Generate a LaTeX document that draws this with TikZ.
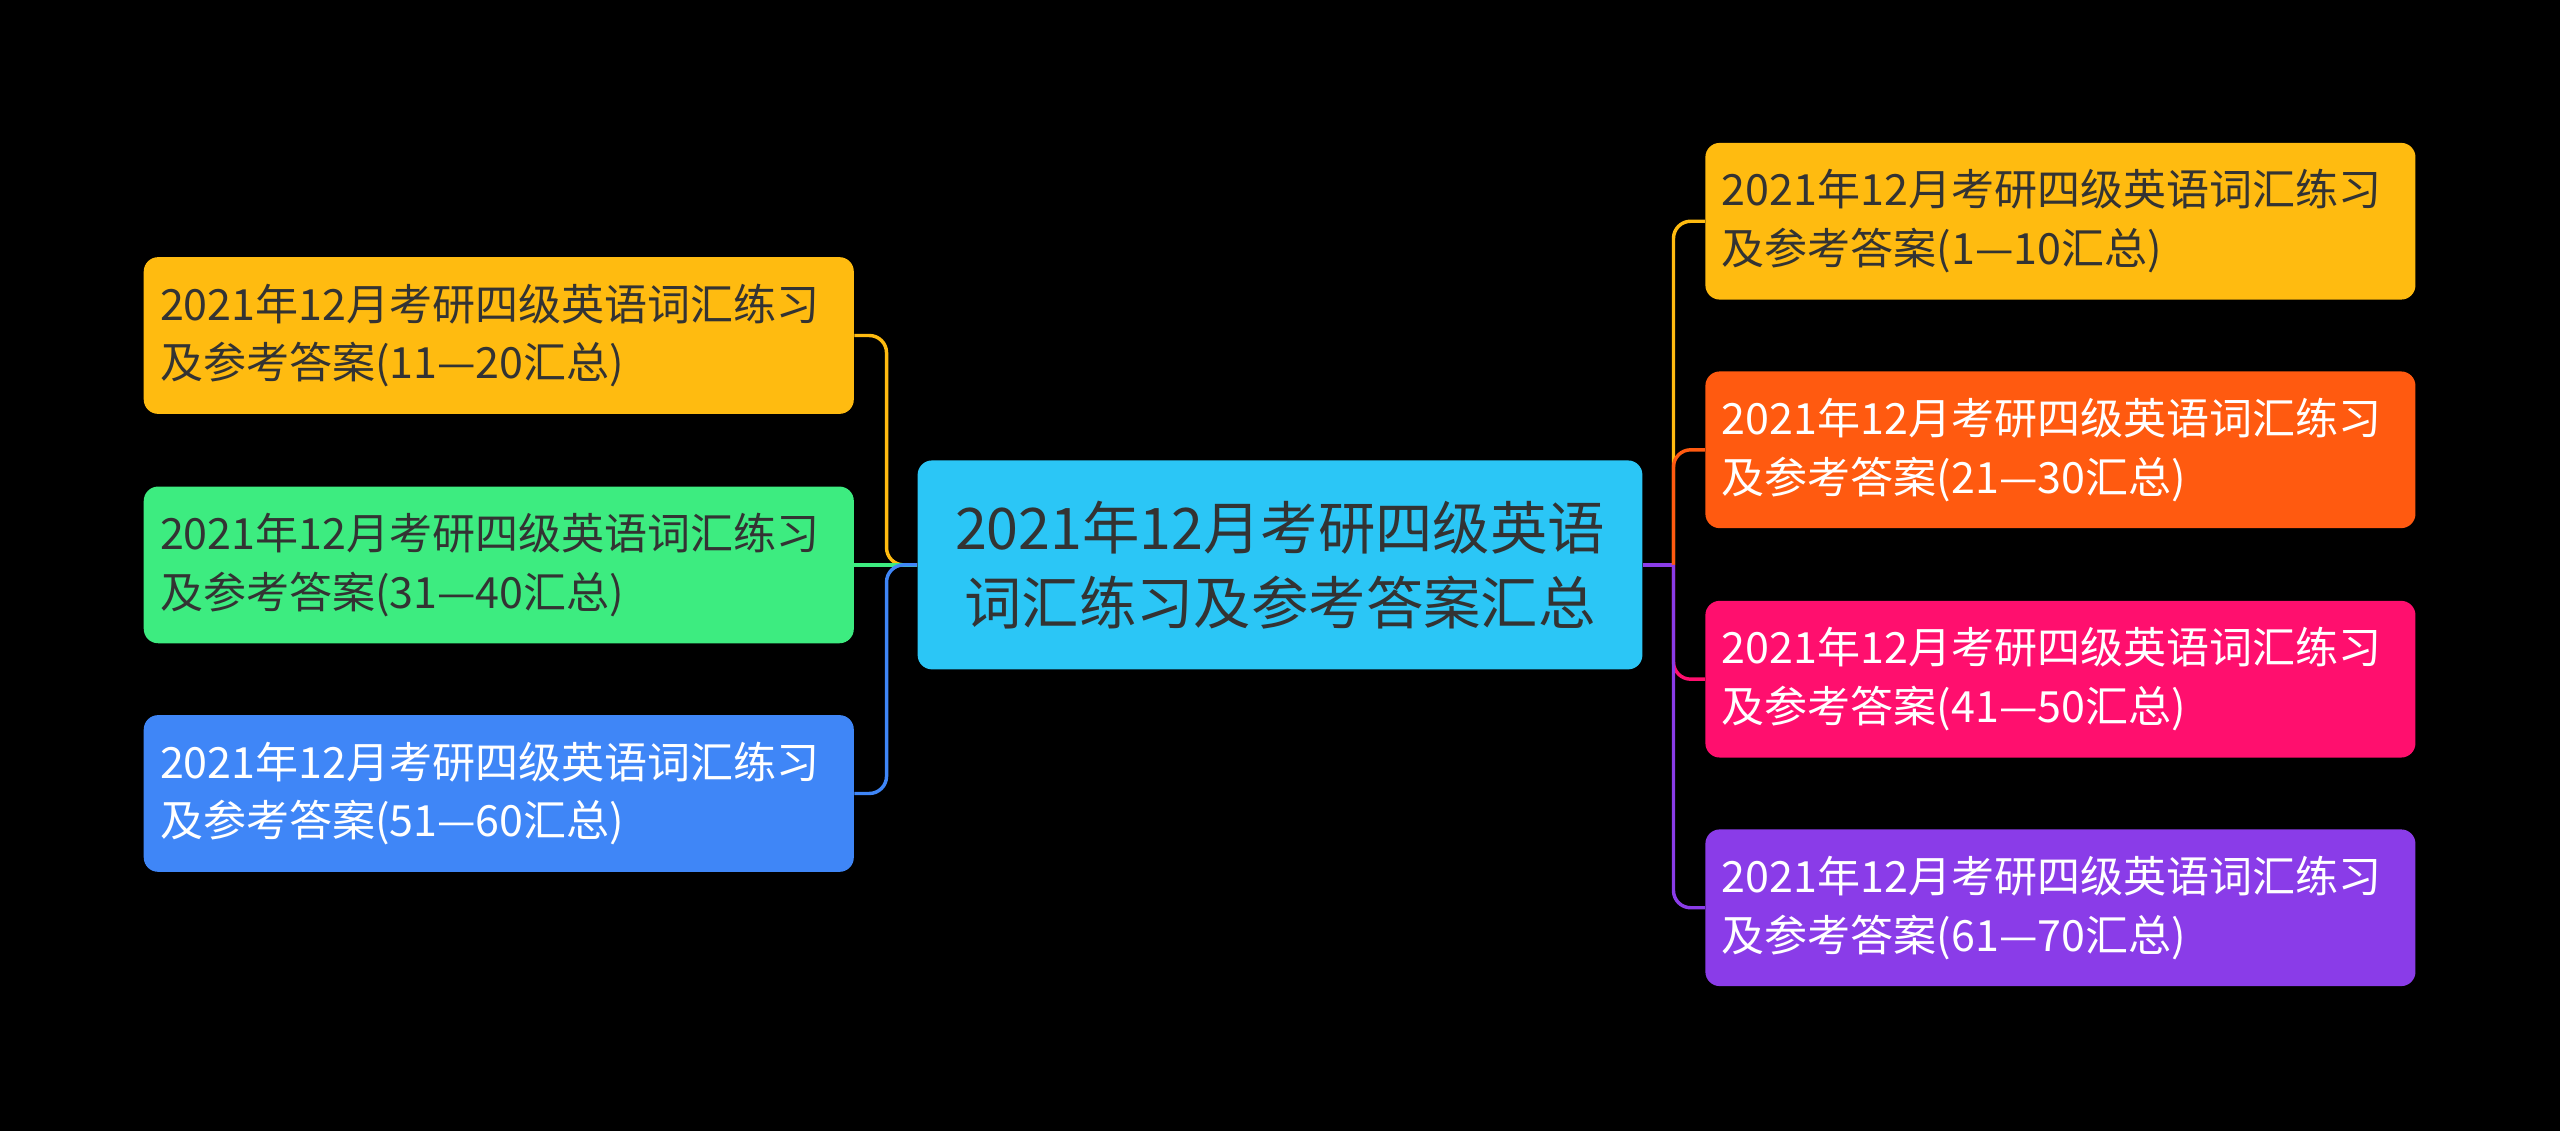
\documentclass[tikz,border=0pt]{standalone}
\usepackage{fontspec}
\setmainfont{Noto Sans CJK SC}
\usetikzlibrary{positioning}
\definecolor{cyanbox}{HTML}{2BC6F6}
\definecolor{yellowbox}{HTML}{FFBB10}
\definecolor{greenbox}{HTML}{3DEC80}
\definecolor{bluebox}{HTML}{3F86F7}
\definecolor{orangebox}{HTML}{FF5A10}
\definecolor{pinkbox}{HTML}{FF0F6E}
\definecolor{purplebox}{HTML}{8A3CE8}
\definecolor{darktext}{HTML}{333333}
\tikzset{
  topic/.style={rounded corners=5pt, minimum width=8.7cm, minimum height=1.92cm,
    text width=8.3cm, align=left, font=\fontsize{15pt}{20.5pt}\selectfont, inner sep=0pt},
  root/.style={rounded corners=5pt, minimum width=8.88cm, minimum height=2.56cm,
    fill=cyanbox, text=darktext, align=center, font=\fontsize{20pt}{26pt}\selectfont},
  branch/.style={line width=1.2pt, rounded corners=6pt}
}
\begin{document}
\begin{tikzpicture}[x=0.02cm,y=-0.02cm]
   \fill[black] (0,0) rectangle (1568,693);
   \useasboundingbox (0,0) rectangle (1568,693);
   \node[root] (c) at (784,346) {2021年12月考研四级英语\\词汇练习及参考答案汇总};
   \node[topic,fill=yellowbox,text=darktext] (l1) at (305.5,205.5) {2021年12月考研四级英语词汇练习\\及参考答案(11—20汇总)};
   \node[topic,fill=greenbox,text=darktext] (l2) at (305.5,346) {2021年12月考研四级英语词汇练习\\及参考答案(31—40汇总)};
   \node[topic,fill=bluebox,text=white] (l3) at (305.5,486) {2021年12月考研四级英语词汇练习\\及参考答案(51—60汇总)};
   \node[topic,fill=yellowbox,text=darktext] (r1) at (1262,135.5) {2021年12月考研四级英语词汇练习\\及参考答案(1—10汇总)};
   \node[topic,fill=orangebox,text=white] (r2) at (1262,275.5) {2021年12月考研四级英语词汇练习\\及参考答案(21—30汇总)};
   \node[topic,fill=pinkbox,text=white] (r3) at (1262,416) {2021年12月考研四级英语词汇练习\\及参考答案(41—50汇总)};
   \node[topic,fill=purplebox,text=white] (r4) at (1262,556) {2021年12月考研四级英语词汇练习\\及参考答案(61—70汇总)};
   \coordinate (lt) at (543,346);
   \coordinate (rt) at (1025,346);
   % left side
   \draw[branch,yellowbox] (c.west) -- (lt) |- (l1.east);
   \draw[branch,greenbox] (c.west) -- (l2.east);
   \draw[branch,bluebox] (c.west) -- (lt) |- (l3.east);
   % right side
   \draw[branch,purplebox] (c.east) -- (rt);
   \draw[branch,yellowbox] (rt) |- (r1.west);
   \draw[branch,orangebox] (rt) |- (r2.west);
   \draw[branch,pinkbox] (rt) |- (r3.west);
   \draw[branch,purplebox] (rt) |- (r4.west);
\end{tikzpicture}
\end{document}
